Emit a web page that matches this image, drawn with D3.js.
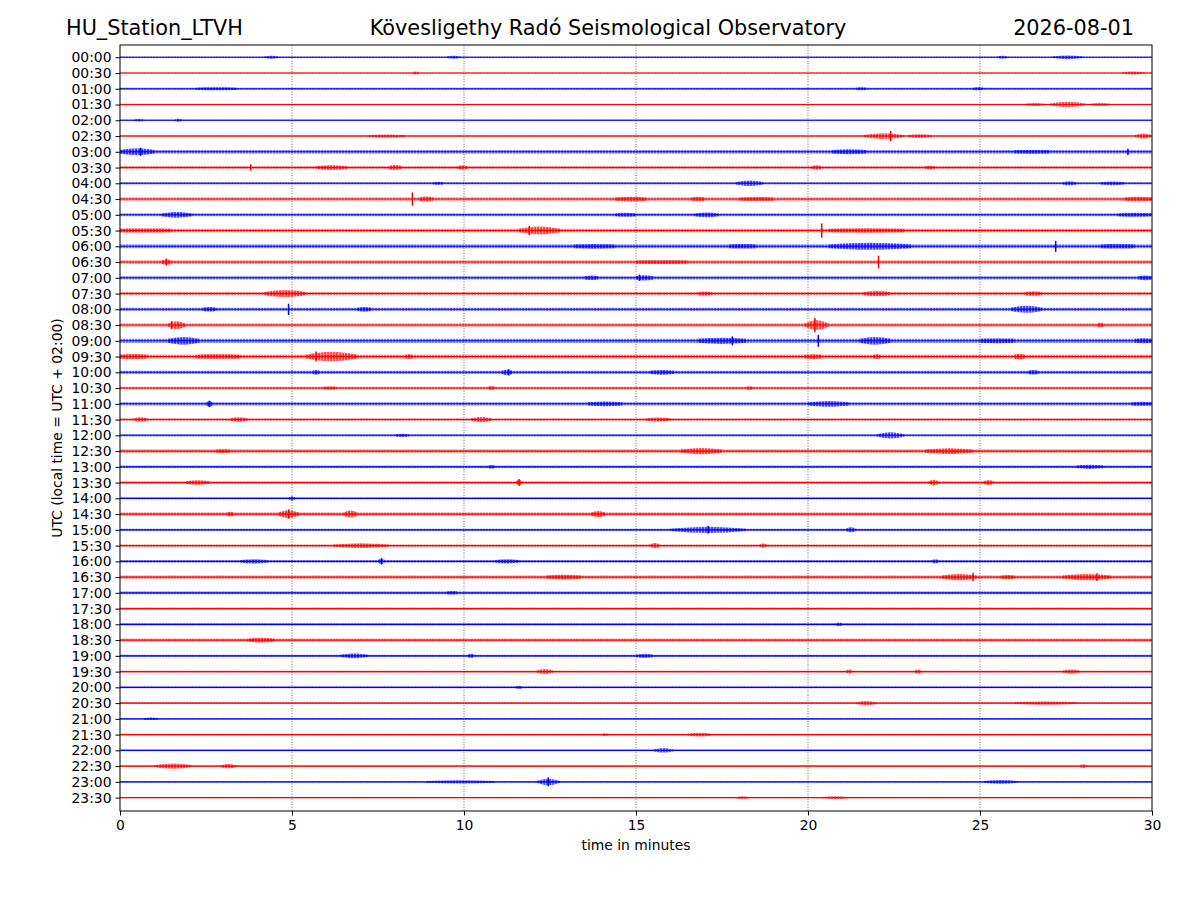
<!DOCTYPE html>
<html><head><meta charset="utf-8">
<script src="https://cdn.jsdelivr.net/npm/d3@7/dist/d3.min.js"></script>
<style>html,body{margin:0;padding:0;background:#fff}svg{display:block;font-family:"DejaVu Sans",sans-serif}</style>
</head><body><svg id="c" width="1200" height="900"></svg>
<script>
const rowLabels = ["00:00","00:30","01:00","01:30","02:00","02:30","03:00","03:30","04:00","04:30","05:00","05:30","06:00","06:30","07:00","07:30","08:00","08:30","09:00","09:30","10:00","10:30","11:00","11:30","12:00","12:30","13:00","13:30","14:00","14:30","15:00","15:30","16:00","16:30","17:00","17:30","18:00","18:30","19:00","19:30","20:00","20:30","21:00","21:30","22:00","22:30","23:00","23:30"];
const xTicks = [0,5,10,15,20,25,30];
const gridMinutes = [5,10,15,20,25];
// background noise half-amplitude per row (in trace spacing units)
const baseNoise = [0.05,0.04,0.07,0.05,0.05,0.06,0.11,0.09,0.07,0.1,0.09,0.11,0.12,0.1,0.1,0.1,0.1,0.1,0.13,0.12,0.1,0.08,0.1,0.08,0.07,0.1,0.08,0.08,0.06,0.1,0.07,0.07,0.08,0.1,0.09,0.07,0.07,0.09,0.07,0.06,0.06,0.06,0.05,0.05,0.05,0.05,0.05,0.04];
// bursts: [row, start minute, end minute, peak amplitude]
const bursts = [
[0,4.2,4.6,0.1],[0,9.5,9.9,0.1],[0,25.5,25.8,0.09],[0,27.1,28.0,0.12],
[1,8.5,8.7,0.1],[1,29.1,29.8,0.09],
[2,2.2,3.4,0.09],[2,21.4,21.7,0.09],[2,24.8,25.1,0.09],
[3,27.0,28.1,0.17],[3,26.3,26.9,0.09],[3,28.2,28.8,0.09],
[4,0.4,0.7,0.08],[4,1.6,1.8,0.1],
[5,7.2,8.3,0.1],[5,21.6,22.8,0.18],[5,22.9,23.6,0.12],[5,29.5,30,0.16],
[6,0,1.0,0.22],[6,20.7,21.7,0.16],[6,26.0,27.0,0.12],
[7,5.7,6.6,0.15],[7,7.8,8.2,0.16],[7,9.8,10.1,0.14],[7,20.1,20.4,0.14],[7,23.4,23.7,0.12],
[8,17.9,18.7,0.17],[8,27.4,27.8,0.13],[8,28.5,29.2,0.12],[8,9.1,9.4,0.1],
[9,8.7,9.1,0.16],[9,14.4,15.3,0.15],[9,16.6,17.0,0.14],[9,18.0,19.0,0.13],[9,29.2,30,0.14],
[10,1.2,2.1,0.18],[10,14.4,15.0,0.13],[10,16.7,17.4,0.15],[10,29.0,30,0.13],
[11,11.6,12.8,0.25],[11,20.6,22.8,0.14],[11,0,1.5,0.13],
[12,20.6,23.0,0.22],[12,13.2,14.4,0.15],[12,17.7,18.5,0.14],[12,28.5,29.5,0.14],
[13,1.2,1.5,0.16],[13,15.0,16.5,0.12],
[14,13.5,13.9,0.14],[14,15.0,15.5,0.17],[14,29.6,30,0.15],
[15,4.2,5.4,0.22],[15,21.6,22.4,0.16],[15,26.3,26.8,0.14],[15,16.8,17.2,0.13],
[16,2.4,2.8,0.14],[16,6.9,7.3,0.15],[16,25.9,26.8,0.22],
[17,1.4,1.9,0.25],[17,19.9,20.6,0.3],[17,28.4,28.6,0.15],
[18,1.4,2.3,0.25],[18,16.8,18.2,0.2],[18,21.5,22.4,0.25],[18,25.0,26.0,0.15],[18,29.5,30,0.16],
[19,0,0.8,0.16],[19,2.2,3.5,0.14],[19,5.4,6.9,0.3],[19,8.3,8.5,0.15],[19,19.9,20.4,0.15],[19,21.9,22.1,0.15],[19,26.0,26.3,0.18],
[20,5.6,5.8,0.15],[20,11.1,11.4,0.18],[20,15.4,16.1,0.15],[20,26.4,26.7,0.14],
[21,5.9,6.3,0.1],[21,10.7,10.9,0.13],[21,18.2,18.4,0.12],
[22,2.5,2.7,0.18],[22,13.6,14.6,0.15],[22,20.0,21.2,0.18],[22,29.4,30,0.13],
[23,0.4,0.8,0.14],[23,3.2,3.7,0.14],[23,10.2,10.8,0.17],[23,15.3,16.0,0.13],
[24,8.0,8.4,0.1],[24,22.0,22.8,0.2],
[25,2.8,3.2,0.12],[25,16.3,17.5,0.2],[25,23.4,24.8,0.18],
[26,10.7,10.9,0.12],[26,27.8,28.6,0.13],
[27,1.9,2.6,0.15],[27,11.5,11.7,0.18],[27,23.5,23.8,0.18],[27,25.1,25.4,0.16],
[28,4.9,5.1,0.14],
[29,3.1,3.3,0.15],[29,4.6,5.2,0.25],[29,6.5,6.9,0.22],[29,13.7,14.1,0.2],
[30,16.0,18.2,0.2],[30,21.1,21.4,0.16],
[31,6.2,7.8,0.15],[31,15.4,15.7,0.16],[31,18.6,18.8,0.13],
[32,3.5,4.3,0.14],[32,7.5,7.7,0.18],[32,10.9,11.6,0.14],[32,23.6,23.8,0.14],
[33,12.4,13.4,0.15],[33,23.9,24.9,0.2],[33,25.6,26.0,0.14],[33,27.4,28.8,0.2],
[34,9.5,9.8,0.11],
[36,20.8,21.0,0.12],
[37,3.7,4.5,0.15],
[38,6.4,7.2,0.15],[38,10.1,10.3,0.13],[38,15.0,15.5,0.13],
[39,12.1,12.6,0.16],[39,21.1,21.3,0.13],[39,23.1,23.3,0.13],[39,27.4,27.9,0.13],
[40,11.5,11.7,0.1],
[41,21.4,22.0,0.14],[41,26.0,27.8,0.1],
[42,0.7,1.1,0.08],
[43,16.5,17.2,0.12],[43,14.0,14.2,0.08],
[44,15.5,16.1,0.14],
[45,1.0,2.1,0.16],[45,2.9,3.4,0.14],[45,27.9,28.1,0.12],
[46,8.9,10.9,0.1],[46,12.1,12.8,0.2],[46,25.1,26.1,0.12],
[47,17.9,18.3,0.08],[47,20.4,21.2,0.09]
];
// spikes: [row, minute, amplitude]
const spikes = [
[5,22.4,0.32],[6,0.6,0.25],[6,29.3,0.2],[7,3.8,0.2],[9,8.5,0.42],[11,11.9,0.3],[11,20.4,0.45],
[12,27.2,0.35],[13,1.35,0.22],[13,22.05,0.4],[14,15.1,0.2],[16,4.9,0.36],[17,1.5,0.25],[17,20.2,0.45],
[18,20.3,0.38],[18,17.8,0.28],[19,5.7,0.32],[20,11.3,0.2],[22,2.6,0.2],[27,11.6,0.22],[29,4.9,0.3],
[30,17.1,0.24],[32,7.6,0.2],[33,24.8,0.27],[33,28.4,0.25],[46,12.45,0.28]
];
const traceColors = ["#0000ff","#ff0000"];

const svg = d3.select("#c");
const L=120,R=1152,T=45,B=811;
const x = d3.scaleLinear().domain([0,30]).range([L,R]);
const y = d3.scaleLinear().domain([-0.78,47.85]).range([T,B]);
const amp = d3.scaleLinear().domain([0,1]).range([0, y(1)-y(0)]);
const col = i => traceColors[i%2];

// hatch patterns imitating dense wiggles
const defs = svg.append("defs");
traceColors.forEach((c,k)=>{
  const p = defs.append("pattern").attr("id","h"+k).attr("patternUnits","userSpaceOnUse")
    .attr("width",3).attr("height",4);
  p.append("rect").attr("width",3).attr("height",4).attr("fill",c).attr("fill-opacity",0.35);
  p.append("rect").attr("x",0.5).attr("width",1.1).attr("height",4).attr("fill",c).attr("fill-opacity",0.9);
});
const hatch = i => `url(#h${i%2})`;

// grid
svg.append("g").selectAll("line").data(gridMinutes).join("line")
  .attr("x1",d=>x(d)).attr("x2",d=>x(d)).attr("y1",T).attr("y2",B)
  .attr("stroke","#444").attr("stroke-width",0.8).attr("stroke-dasharray","1,1.6");

const tr = svg.append("g");
// noise bands
tr.selectAll("rect.band").data(rowLabels).join("rect").attr("class","band")
  .attr("x",x(0)).attr("width",x(30)-x(0))
  .attr("y",(d,i)=>y(i)-amp(baseNoise[i])).attr("height",(d,i)=>2*amp(baseNoise[i]))
  .attr("fill",(d,i)=>hatch(i)).attr("fill-opacity",0.8);
// bursts
const area = d3.area().curve(d3.curveMonotoneX)
  .x(p=>x(p[0])).y0(p=>p[2]-amp(p[1])).y1(p=>p[2]+amp(p[1]));
tr.selectAll("path.burst").data(bursts).join("path").attr("class","burst")
  .attr("d",b=>{const yc=y(b[0]);return area([[b[1],baseNoise[b[0]],yc],[(b[1]+b[2])/2,b[3],yc],[b[2],baseNoise[b[0]],yc]]);})
  .attr("fill",b=>hatch(b[0]));
// spikes
tr.selectAll("line.spike").data(spikes).join("line").attr("class","spike")
  .attr("x1",s=>x(s[1])).attr("x2",s=>x(s[1]))
  .attr("y1",s=>y(s[0])-amp(s[2])).attr("y2",s=>y(s[0])+amp(s[2]))
  .attr("stroke",s=>col(s[0])).attr("stroke-width",1.5);
// center lines
tr.selectAll("line.core").data(rowLabels).join("line").attr("class","core")
  .attr("x1",x(0)).attr("x2",x(30)).attr("y1",(d,i)=>y(i)).attr("y2",(d,i)=>y(i))
  .attr("stroke",(d,i)=>col(i)).attr("stroke-width",1.1);

// frame
svg.append("rect").attr("x",L).attr("y",T).attr("width",R-L).attr("height",B-T)
  .attr("fill","none").attr("stroke","#000").attr("stroke-width",1);

// y axis
const ya = svg.append("g").attr("transform",`translate(${L},0)`)
  .call(d3.axisLeft(y).tickValues(d3.range(rowLabels.length)).tickFormat(i=>rowLabels[i]).tickSize(4.5).tickPadding(4));
ya.select(".domain").remove();
ya.selectAll("text").attr("font-size",13.9).attr("font-family","DejaVu Sans").attr("fill","#000");
// x axis
const xa = svg.append("g").attr("transform",`translate(0,${B})`)
  .call(d3.axisBottom(x).tickValues(xTicks).tickFormat(d3.format("d")).tickSize(4.5).tickPadding(5));
xa.select(".domain").remove();
xa.selectAll("text").attr("font-size",13.9).attr("font-family","DejaVu Sans").attr("fill","#000");

svg.append("text").attr("x",(L+R)/2).attr("y",850).attr("text-anchor","middle").attr("font-size",13.9).text("time in minutes");
svg.append("text").attr("transform",`translate(62,${(T+B)/2}) rotate(-90)`).attr("text-anchor","middle").attr("font-size",13.9).text("UTC (local time = UTC + 02:00)");

svg.append("text").attr("x",66).attr("y",35).attr("font-size",20.8).text("HU_Station_LTVH");
svg.append("text").attr("x",608).attr("y",35).attr("text-anchor","middle").attr("font-size",20.8).text("Kövesligethy Radó Seismological Observatory");
svg.append("text").attr("x",1134).attr("y",35).attr("text-anchor","end").attr("font-size",20.8).text("2026-08-01");
</script></body></html>
